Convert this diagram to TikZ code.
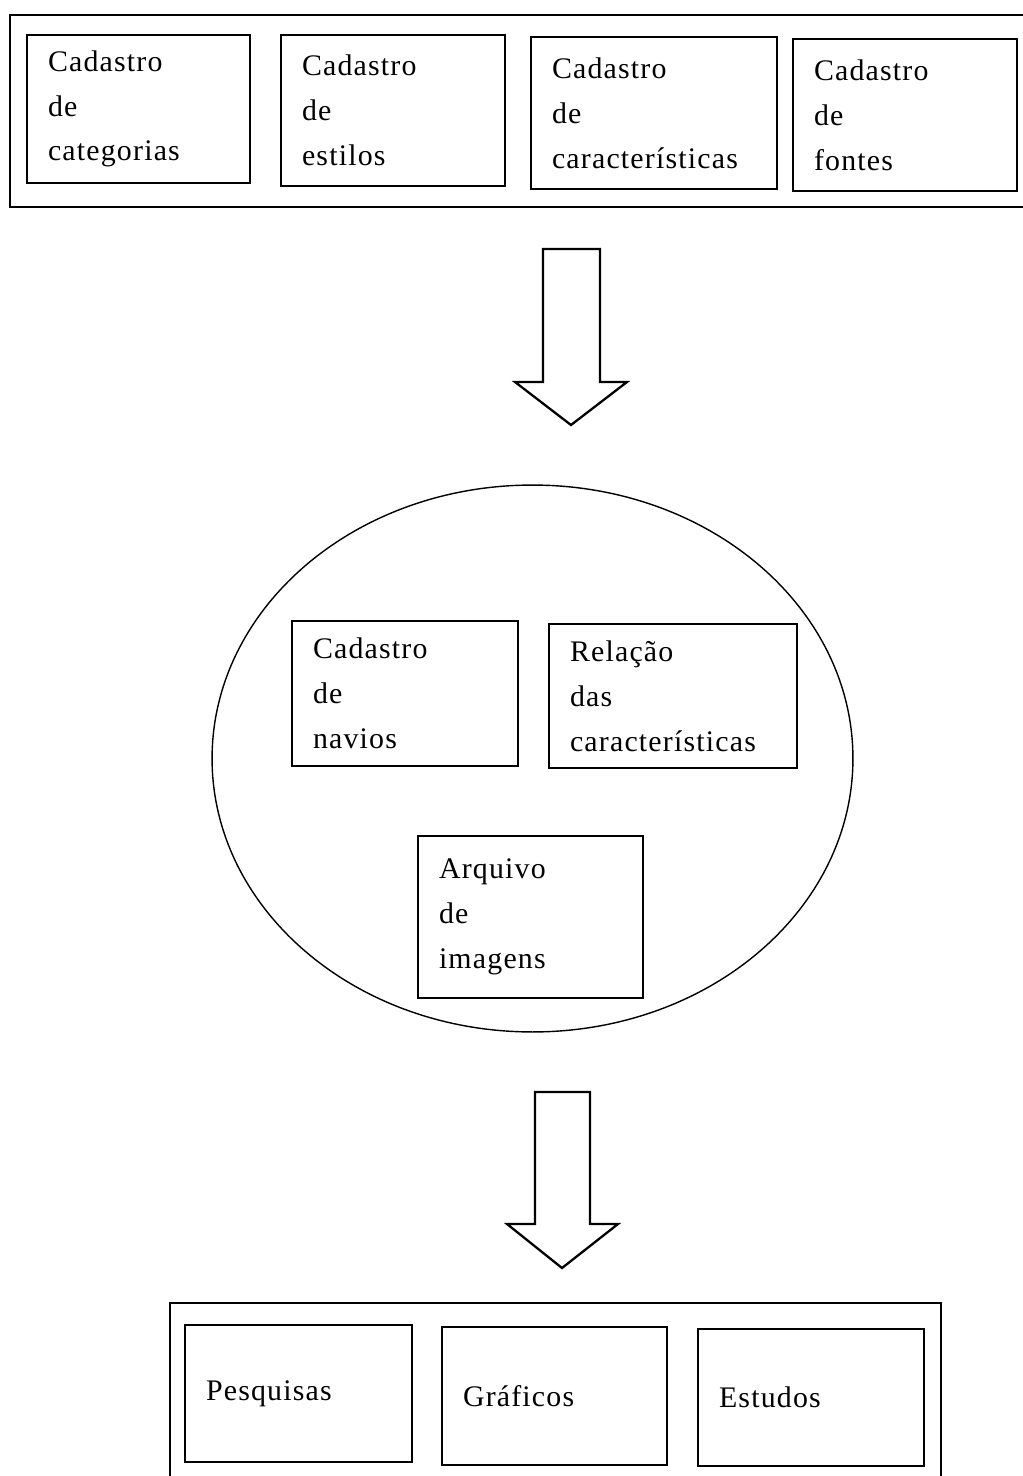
\documentclass[tikz,border=0pt]{standalone}
\usepackage{fontspec}
\setmainfont{Liberation Serif}[LetterSpace=4]
\usepackage{tikz}
\usetikzlibrary{positioning,shapes.geometric}

\newcommand{\cadfont}{\fontsize{17}{25.5}\selectfont}

\tikzset{
  cadbox/.style={draw, line width=1pt, align=left, inner xsep=0.42cm, inner ysep=0pt, font=\cadfont},
  grupo/.style={draw, line width=1pt},
  seta/.style={draw, line width=1.3pt, line join=miter},
}

\begin{document}
\begin{tikzpicture}[x=0.02cm, y=-0.02cm]
  \useasboundingbox (0,0) rectangle (1022,1476);

  % cadastros de base
  \draw[grupo] (10,15) rectangle (1040,207);
  \node[cadbox, text width=3.62cm, minimum height=2.96cm] (categorias) at (138.5,109) {Cadastro\\de\\categorias};
  \node[cadbox, text width=3.64cm, minimum height=3.02cm] (estilos) at (393,110.5) {Cadastro\\de\\estilos};
  \node[cadbox, text width=4.08cm, minimum height=3.04cm] (caracteristicas) at (654,113) {Cadastro\\de\\características};
  \node[cadbox, text width=3.64cm, minimum height=3.04cm] (fontes) at (905,115) {Cadastro\\de\\fontes};

  \draw[seta] (543,249) -- (600,249) -- (600,382) -- (627,382) -- (571,425) -- (515,382) -- (543,382) -- cycle;

  % nucleo
  \node[draw, ellipse, line width=0.8pt, minimum width=12.82cm, minimum height=10.94cm] (nucleo) at (532.5,758.5) {};
  \node[cadbox, text width=3.68cm, minimum height=2.9cm] (navios) at (405,693.5) {Cadastro\\de\\navios};
  \node[cadbox, text width=4.12cm, minimum height=2.88cm] (relacao) at (673,696) {Relação\\das\\características};
  \node[cadbox, text width=3.66cm, minimum height=3.24cm] (imagens) at (530.5,917) {Arquivo\\de\\imagens};

  \draw[seta] (535,1092) -- (590,1092) -- (590,1224) -- (618,1224) -- (562,1268) -- (507,1224) -- (535,1224) -- cycle;

  % saidas
  \draw[grupo] (170,1303) rectangle (941,1500);
  \node[cadbox, text width=3.70cm, minimum height=2.74cm] (pesquisas) at (298.5,1393.5) {Pesquisas};
  \node[cadbox, text width=3.66cm, minimum height=2.76cm] (graficos) at (554.5,1396) {Gráficos};
  \node[cadbox, text width=3.68cm, minimum height=2.74cm] (estudos) at (811,1397.5) {Estudos};
\end{tikzpicture}
\end{document}
